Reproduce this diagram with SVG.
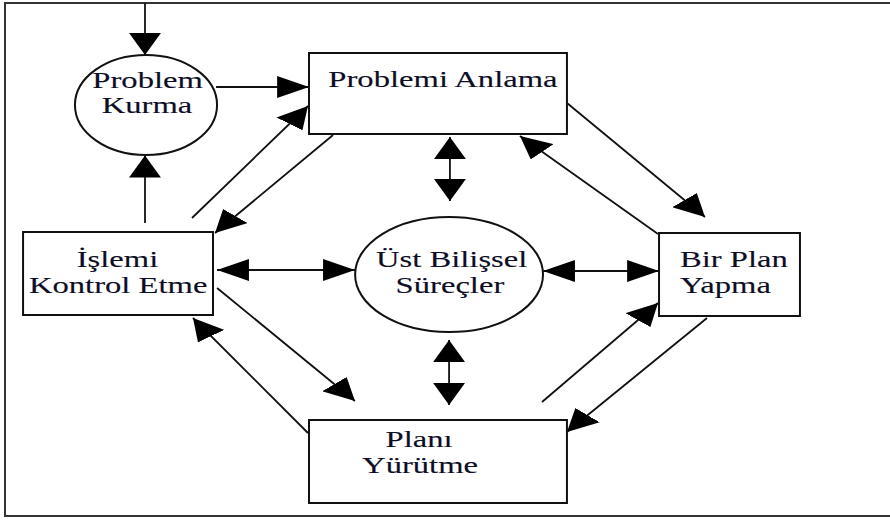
<svg xmlns="http://www.w3.org/2000/svg" width="890" height="520" viewBox="0 0 890 520">
  <style>
    .shape { fill: #ffffff; stroke: #111111; stroke-width: 2; vector-effect: non-scaling-stroke; }
    .frame { fill: #ffffff; stroke: #333333; stroke-width: 2; vector-effect: non-scaling-stroke; }
    .link { fill: none; stroke: #111111; stroke-width: 1.8; vector-effect: non-scaling-stroke; }
    .one { marker-end: url(#head); }
    .two { marker-start: url(#head); marker-end: url(#head); }
    .label { font-family: 'Liberation Serif', 'DejaVu Serif', serif; font-size: 22.5px; fill: #0d0d26; stroke: #0d0d26; stroke-width: 0.12; text-anchor: middle; }
    .left { text-anchor: start; }
  </style>
  <defs>
    <marker id="head" viewBox="0 0 22 22" refX="22" refY="11" markerWidth="22" markerHeight="22" markerUnits="userSpaceOnUse" orient="auto-start-reverse">
      <path d="M0,0 L22,11 L0,22 Z" fill="#000000"/>
    </marker>
  </defs>

  <!-- the whole figure is laid out on a horizontally stretched grid -->
  <g transform="scale(1.45 1)">
    <rect class="frame" x="3.45" y="3" width="640" height="513"/>

    <g id="connectors">
      <line class="link one" x1="100" y1="3" x2="100" y2="55"/>
      <line class="link one" x1="149" y1="87" x2="213.1" y2="87"/>
      <line class="link one" x1="100" y1="223" x2="100" y2="155.5"/>
      <line class="link one" x1="132.4" y1="218" x2="212.4" y2="106"/>
      <line class="link one" x1="229.7" y1="135" x2="148.3" y2="233"/>
      <line class="link two" x1="310.3" y1="137" x2="310.3" y2="201"/>
      <line class="link one" x1="391" y1="103" x2="486.2" y2="217"/>
      <line class="link one" x1="453.8" y1="234" x2="358.6" y2="136"/>
      <line class="link two" x1="149.7" y1="270" x2="244.8" y2="270"/>
      <line class="link two" x1="374.5" y1="271" x2="454.5" y2="271"/>
      <line class="link one" x1="149.7" y1="288" x2="244.8" y2="401"/>
      <line class="link one" x1="212.4" y1="433" x2="133.1" y2="318"/>
      <line class="link two" x1="309.7" y1="340" x2="309.7" y2="405"/>
      <line class="link one" x1="373.8" y1="402" x2="453.8" y2="303"/>
      <line class="link one" x1="487.6" y1="318" x2="391" y2="432"/>
    </g>

    <g id="problem-kurma">
      <ellipse class="shape" cx="100.7" cy="105" rx="49" ry="50"/>
      <text class="label" x="101.8" y="88">Problem</text>
      <text class="label" x="101.4" y="113">Kurma</text>
    </g>

    <g id="problemi-anlama">
      <rect class="shape" x="213.1" y="53" width="177.9" height="81"/>
      <text class="label" x="305.5" y="87">Problemi Anlama</text>
    </g>

    <g id="islemi-kontrol-etme">
      <rect class="shape" x="15.9" y="232" width="131" height="83"/>
      <text class="label" x="81" y="267">İşlemi</text>
      <text class="label" x="81.5" y="293">Kontrol Etme</text>
    </g>

    <g id="ust-bilissel-surecler">
      <ellipse class="shape" cx="309.7" cy="274.5" rx="64.8" ry="57.5"/>
      <text class="label" x="311.5" y="267">Üst Bilişsel</text>
      <text class="label" x="310.3" y="293">Süreçler</text>
    </g>

    <g id="bir-plan-yapma">
      <rect class="shape" x="454.5" y="233" width="97.2" height="83"/>
      <text class="label left" x="469" y="267">Bir Plan</text>
      <text class="label left" x="469" y="293">Yapma</text>
    </g>

    <g id="plani-yurutme">
      <rect class="shape" x="213.1" y="420" width="177.9" height="83"/>
      <text class="label" x="289" y="447">Planı</text>
      <text class="label" x="289.7" y="473">Yürütme</text>
    </g>
  </g>
</svg>
